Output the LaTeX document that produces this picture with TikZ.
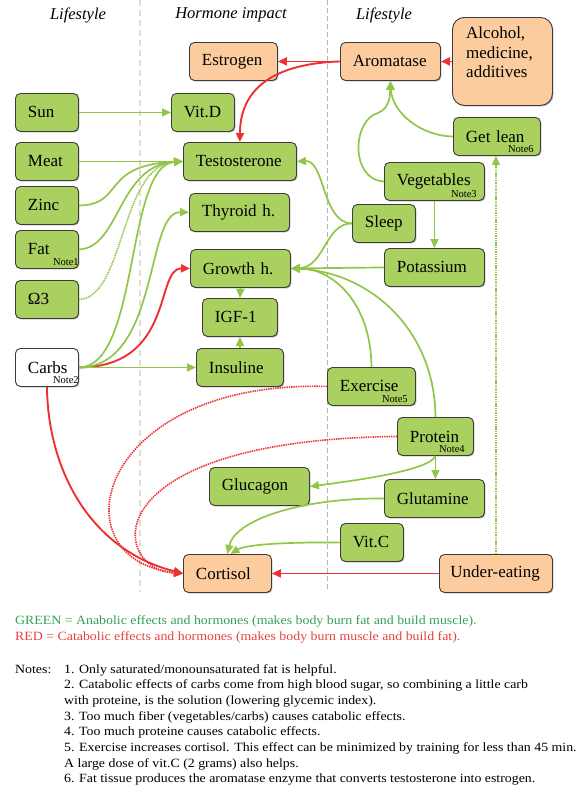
\documentclass[tikz,border=0pt]{standalone}
\usepackage{fontspec}
\setmainfont{Liberation Serif}
\newfontfamily\notesfont{Liberation Serif}[FakeStretch=1.1]
\usetikzlibrary{arrows.meta,shadows}
\definecolor{grn}{RGB}{170,208,96}
\definecolor{peach}{RGB}{252,204,158}
\definecolor{lgreen}{RGB}{146,198,72}
\definecolor{lred}{RGB}{236,48,52}
\definecolor{boxline}{RGB}{60,60,60}
\definecolor{gtext}{RGB}{52,160,82}
\definecolor{rtext}{RGB}{232,64,64}
\definecolor{sepA}{RGB}{222,222,206}
\definecolor{sepB}{RGB}{180,180,180}
\begin{document}
\begin{tikzpicture}[x=1pt,y=-1pt,
  box/.style={draw=boxline, line width=0.9pt, rounded corners=5pt, inner xsep=12.5pt, inner ysep=0pt,
    align=left, anchor=north west, minimum height=38pt, font=\fontsize{17}{19}\selectfont,
    drop shadow={shadow xshift=1pt, shadow yshift=-1pt, fill=black!55, opacity=0.6}},
  gbox/.style={box, fill=grn},
  pbox/.style={box, fill=peach},
  wbox/.style={box, fill=white},
  notef/.style={font=\fontsize{10.5}{12}\selectfont, inner sep=0pt, anchor=base east},
  ga/.style={draw=lgreen, line width=1.7pt, -{Triangle[length=9pt,width=8pt]}},
  ra/.style={draw=lred, line width=1.9pt, -{Triangle[length=9pt,width=8pt]}},
  dots/.style={line width=1.6pt, dash pattern=on 1.4pt off 0.9pt},
  head/.style={font=\fontsize{16.5}{18}\selectfont\itshape, inner sep=0pt},
  txt/.style={font=\notesfont\fontsize{12.6}{14}\selectfont, inner sep=0pt, anchor=base west}
]
\useasboundingbox (0,0) rectangle (581,795);
% separators
\draw[sepA, line width=1.5pt, dash pattern=on 6pt off 4pt] (140,0) -- (140,592);
\draw[sepB, line width=0.8pt, dash pattern=on 5pt off 3pt] (327,0) -- (327,592);
% headers
\node[head] (h1) at (78,15) {Lifestyle};
\node[head] (h2) at (231,15) {Hormone impact};
\node[head] (h3) at (384,15) {Lifestyle};
% nodes
\node[pbox, text width=63pt] (estr) at (189,42) {Estrogen};
\node[pbox, text width=75pt] (arom) at (340,42) {Aromatase};
\node[pbox, text width=75pt, minimum height=88pt, rounded corners=12pt] (alc) at (452,17) {};
\node[font=\fontsize{17}{19.5}\selectfont, align=left, anchor=north west, inner sep=0pt] (alct) at (466,27) {Alcohol,\\medicine,\\additives};
\node[gbox, text width=38pt] (sun) at (15,93) {Sun};
\node[gbox, text width=38pt] (vitd) at (171,93) {Vit.D};
\node[gbox, text width=38pt] (meat) at (15,142) {Meat};
\node[gbox, text width=88pt] (testo) at (183,142) {Testosterone};
\node[gbox, text width=38pt] (zinc) at (15,186) {Zinc};
\node[gbox, text width=75pt] (thy) at (189,193) {Thyroid h.};
\node[gbox, text width=38pt] (fat) at (15,230) {Fat};
\node[gbox, text width=75pt] (growth) at (190,249) {Growth h.};
\node[gbox, text width=38pt] (omega) at (15,280) {Ω3};
\node[gbox, text width=50pt] (igf) at (202,298) {IGF-1};
\node[wbox, text width=38pt] (carbs) at (15,348) {Carbs};
\node[gbox, text width=62pt] (ins) at (196,348) {Insuline};
\node[gbox, text width=62pt] (gl) at (453,117) {Get lean};
\node[gbox, text width=75pt] (veg) at (384,162) {Vegetables};
\node[gbox, text width=38pt] (sleep) at (352,204) {Sleep};
\node[gbox, text width=75pt] (pot) at (384,248) {Potassium};
\node[gbox, text width=63pt] (ex) at (327,367) {Exercise};
\node[gbox, text width=51pt] (prot) at (397,417) {Protein};
\node[gbox, text width=75pt] (glut) at (384,479) {Glutamine};
\node[gbox, text width=38pt] (vitc) at (340,523) {Vit.C};
\node[pbox, text width=91pt, inner xsep=11pt] (under) at (439,554) {\mbox{Under-eating}};
\node[gbox, text width=75pt] (gluc) at (209,467) {Glucagon};
\node[pbox, text width=63pt] (cort) at (183,554) {Cortisol};
% note labels
\node[notef] (n1) at ([yshift=3pt]fat.south east) {Note1};
\node[notef] (n2) at ([yshift=3pt]carbs.south east) {Note2};
\node[notef] (n3) at ([xshift=-8pt,yshift=3pt]veg.south east) {Note3};
\node[notef] (n4) at ([xshift=-9pt,yshift=3pt]prot.south east) {Note4};
\node[notef] (n5) at ([xshift=-8pt,yshift=3pt]ex.south east) {Note5};
\node[notef] (n6) at ([xshift=-7pt,yshift=3pt]gl.south east) {Note6};
% red connectors
\draw[ra] (arom.west) -- (estr.east);
\draw[ra] (arom.west) .. controls (265,64) and (240,95) .. (testo.north);
\draw[ra] (alc.west) -- (arom.east);
\draw[ra] (carbs.east) .. controls (175,367) and (155,268) .. (growth.west);
\draw[ra] (carbs.south) .. controls (48,470) and (90,550) .. (cort.west);
\draw[ra, dots] (ex.west) .. controls (95,380) and (55,560) .. (cort.west);
\draw[ra, dots] (prot.west) .. controls (90,440) and (110,570) .. (cort.west);
\draw[ra] (under.west) -- (cort.east);
% green connectors
\draw[ga] (sun.east) -- (vitd.west);
\draw[ga] (meat.east) -- (testo.west);
\draw[ga] (zinc.east) .. controls (125,205) and (100,165) .. (testo.west);
\draw[ga] (fat.east) .. controls (120,248) and (118,165) .. (testo.west);
\draw[ga, dots] (omega.east) .. controls (125,298) and (120,165) .. (testo.west);
\draw[ga] (carbs.east) .. controls (140,367) and (125,165) .. (testo.west);
\draw[ga] (carbs.east) .. controls (160,367) and (145,211) .. (thy.west);
\draw[ga] (carbs.east) -- (ins.west);
\draw[ga] (growth.south) -- (igf.north);
\draw[ga] (ins.north) -- (igf.south);
\draw[ga] (veg.west) .. controls (350,180) and (352,120) .. (378,113) .. controls (390,108) and (390,95) .. (arom.south);
\draw[ga] (gl.west) .. controls (420,136) and (392,112) .. (arom.south);
\draw[ga] (veg.south) -- (pot.north);
\draw[ga] (sleep.west) .. controls (322,223) and (325,160) .. (testo.east);
\draw[ga] (sleep.west) .. controls (325,223) and (325,267) .. (growth.east);
\draw[ga] (pot.west) -- (growth.east);
\draw[ga] (ex.north) .. controls (371,300) and (330,268) .. (growth.east);
\draw[ga] (prot.north) .. controls (435,330) and (370,272) .. (growth.east);
\draw[ga] (prot.south) -- (prot.south |- glut.north);
\draw[ga] (prot.south) .. controls (430,470) and (360,480) .. (gluc.east);
\draw[ga] (glut.west) .. controls (300,498) and (235,520) .. (cort.north);
\draw[ga] (vitc.west) .. controls (280,542) and (245,545) .. ([xshift=3pt]cort.north);
\draw[ga, dots] (under.north) -- (under.north |- gl.south);
% legend and notes
\node[txt, text=gtext] (lg) at (15,624) {GREEN = Anabolic effects and hormones (makes body burn fat and build muscle).};
\node[txt, text=rtext] (lr) at (15,640) {RED = Catabolic effects and hormones (makes body burn muscle and build fat).};
\node[txt] (nt) at (15,673) {Notes:};
\node[txt] (l1) at (64,673) {1. Only saturated/monounsaturated fat is helpful.};
\node[txt] (l2) at (64,688.7) {2. Catabolic effects of carbs come from high blood sugar, so combining a little carb};
\node[txt] (l3) at (64,704.4) {with proteine, is the solution (lowering glycemic index).};
\node[txt] (l4) at (64,720.1) {3. Too much fiber (vegetables/carbs) causes catabolic effects.};
\node[txt] (l5) at (64,735.8) {4. Too much proteine causes catabolic effects.};
\node[txt] (l6) at (64,751.5) {5. Exercise increases cortisol. This effect can be minimized by training for less than 45 min.};
\node[txt] (l7) at (64,767.2) {A large dose of vit.C (2 grams) also helps.};
\node[txt] (l8) at (64,782.9) {6. Fat tissue produces the aromatase enzyme that converts testosterone into estrogen.};
\end{tikzpicture}
\end{document}
